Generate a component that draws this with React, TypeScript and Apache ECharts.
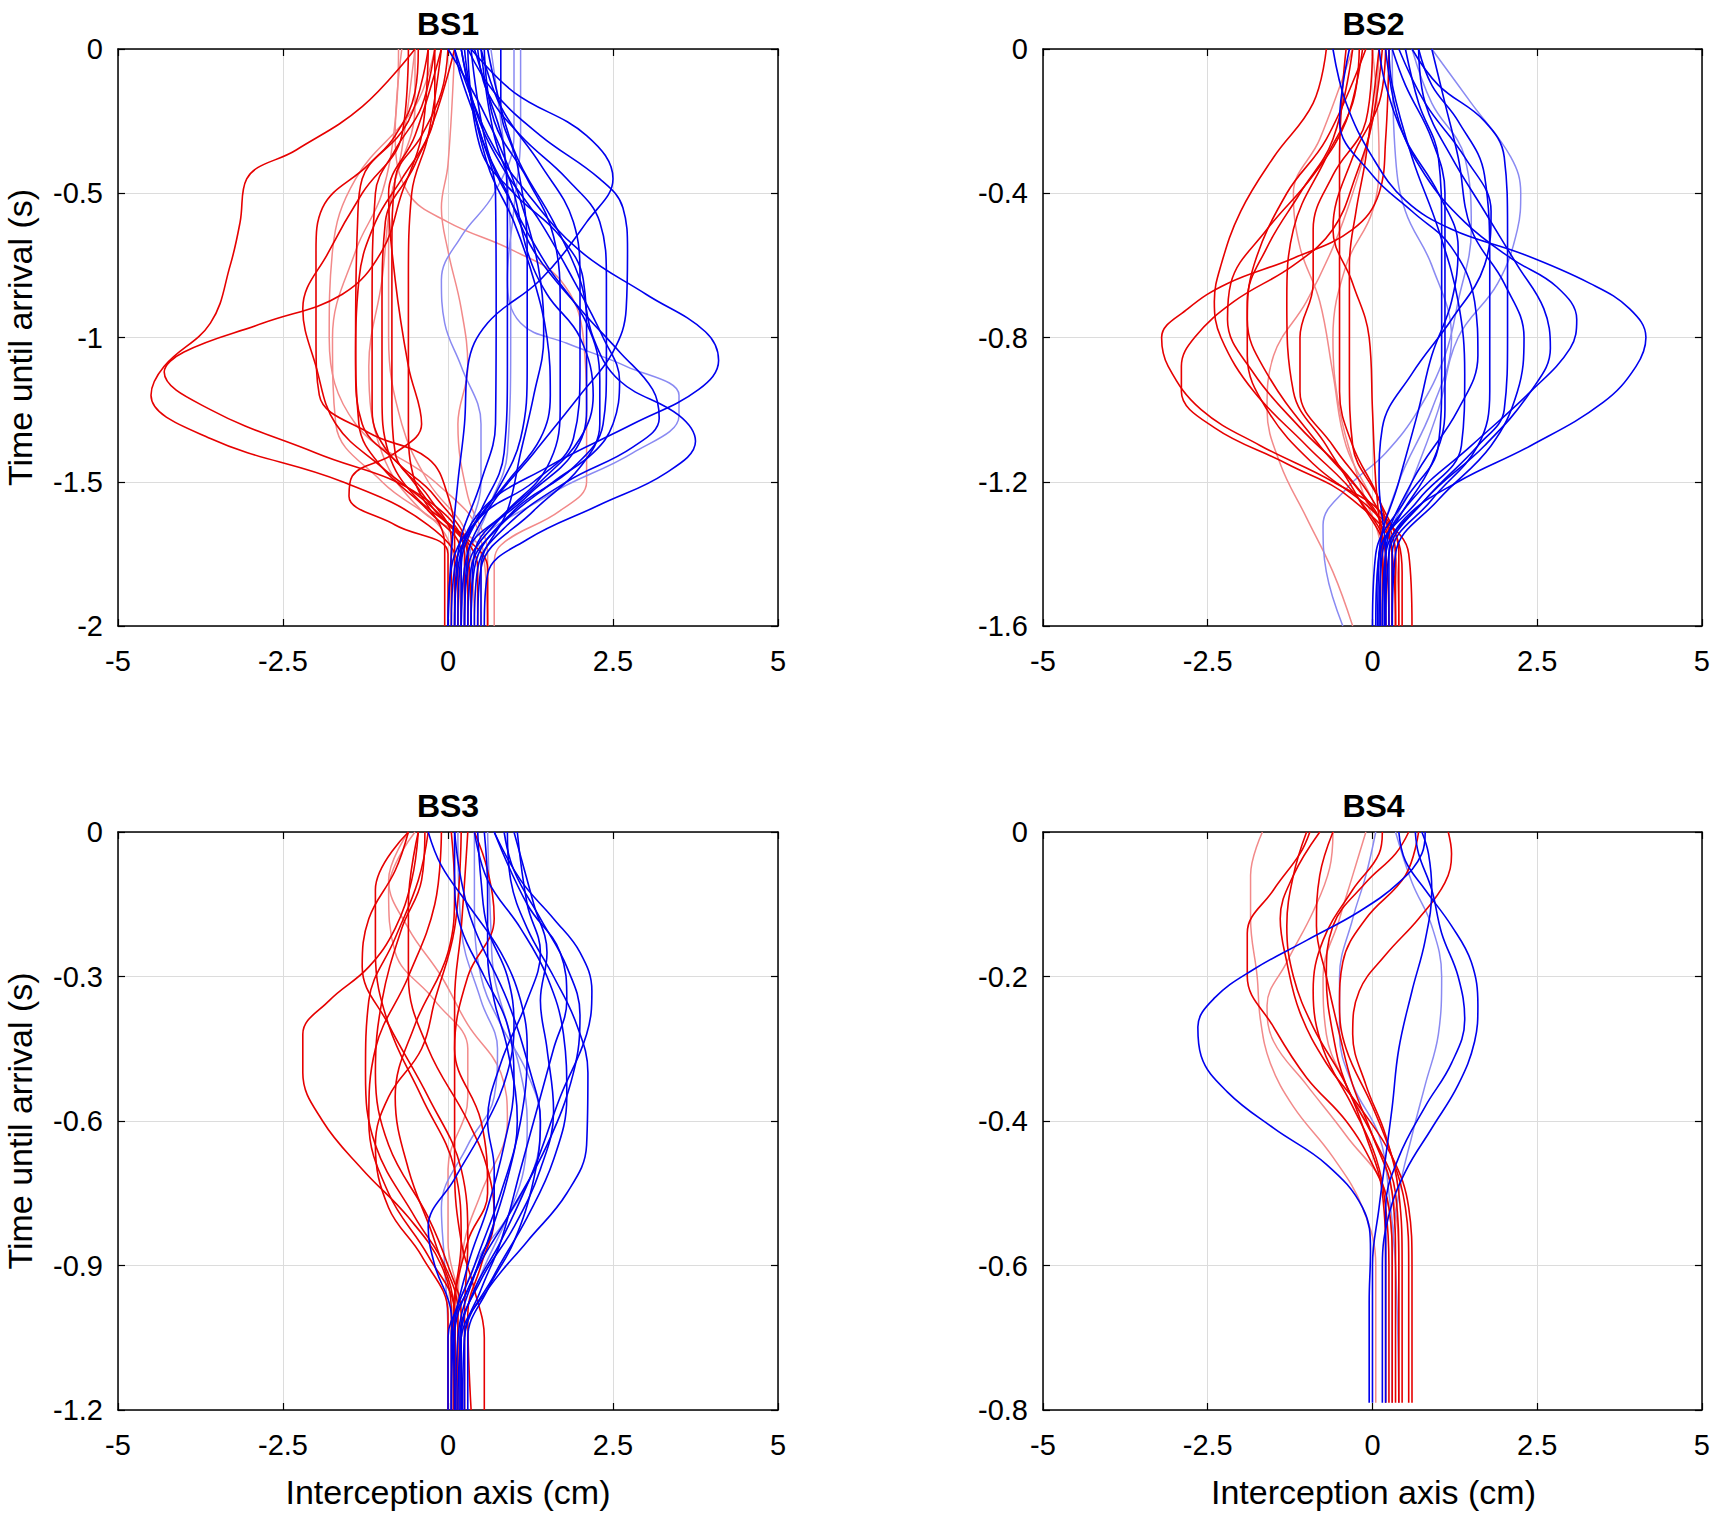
import React, { useEffect, useRef } from "react";
import * as echarts from "echarts";

// ---------- tick / panel definitions ----------
const PANEL_TITLES = ["BS1", "BS2", "BS3", "BS4"];
const Y_MIN = [-2, -1.6, -1.2, -0.8];
const Y_STEP = [0.5, 0.4, 0.3, 0.2];
const X_MIN = -5;
const X_MAX = 5;
const X_STEP = 2.5;
const Y_NAME = "Time until arrival (s)";
const X_NAME = "Interception axis (cm)";

// ---------- trajectories: each point is [time (s), position (cm)] ----------
// BS1
const BS1_RED: number[][][] = [
  [[-2,0.15],[-1.8,0.15],[-1.65,-0.3],[-1.5,-1.6],[-1.35,-3.6],[-1.2,-4.5],[-1.1,-4.3],[-0.95,-3.6],[-0.75,-3.3],[-0.6,-3.15],[-0.45,-3.05],[-0.35,-2.3],[-0.2,-1.3],[0,-0.5]],
  [[-2,0.25],[-1.75,0.25],[-1.55,-0.4],[-1.4,-2.0],[-1.25,-3.6],[-1.12,-4.3],[-1.05,-4.0],[-0.95,-2.8],[-0.85,-1.6],[-0.7,-1.0],[-0.5,-0.7],[-0.3,-0.4],[0,-0.3]],
  [[-2,0.0],[-1.75,0.0],[-1.65,-0.8],[-1.55,-1.5],[-1.48,-1.45],[-1.4,-0.8],[-1.3,-0.4],[-1.1,-0.6],[-0.8,-0.8],[-0.5,-0.9],[-0.3,-0.5],[0,-0.1]],
  [[-2,0.1],[-1.7,0.1],[-1.55,0.0],[-1.42,-0.3],[-1.33,-1.2],[-1.2,-1.95],[-1.0,-2.0],[-0.7,-2.0],[-0.55,-1.9],[-0.4,-1.2],[-0.25,-0.6],[0,-0.3]],
  [[-2,0.2],[-1.75,0.2],[-1.6,-0.3],[-1.45,-1.0],[-1.3,-1.35],[-1.0,-1.4],[-0.6,-1.37],[-0.45,-1.3],[-0.3,-0.8],[-0.15,-0.5],[0,-0.45]],
  [[-2,0.3],[-1.75,0.3],[-1.55,-0.2],[-1.4,-0.9],[-1.25,-1.15],[-0.9,-1.15],[-0.5,-1.1],[-0.35,-0.8],[-0.2,-0.4],[0,-0.2]],
  [[-2,0.05],[-1.7,0.05],[-1.55,-0.3],[-1.4,-0.8],[-1.2,-0.85],[-0.7,-0.85],[-0.45,-0.8],[-0.3,-0.4],[-0.15,-0.1],[0,0.0]],
  [[-2,-0.05],[-1.72,-0.05],[-1.5,-0.5],[-1.3,-0.6],[-0.8,-0.6],[-0.5,-0.55],[-0.3,-0.3],[0,-0.1]],
  [[-2,0.6],[-1.8,0.6],[-1.7,0.3],[-1.55,-0.5],[-1.4,-0.9],[-1.2,-1.0],[-0.9,-1.0],[-0.6,-0.95],[-0.4,-0.5],[-0.2,-0.2],[0,-0.2]],
  [[-2,0.35],[-1.75,0.3],[-1.6,-0.2],[-1.45,-0.7],[-1.3,-1.3],[-1.1,-1.4],[-0.8,-1.35],[-0.6,-1.1],[-0.45,-0.7],[-0.3,-0.3],[0,0.1]],
  [[-2,0.45],[-1.8,0.45],[-1.62,-0.1],[-1.45,-1.0],[-1.3,-1.7],[-1.1,-2.0],[-0.9,-2.2],[-0.7,-1.8],[-0.5,-1.3],[-0.3,-0.7],[0,-0.6]],
];
const BS1_RED_LIGHT: number[][][] = [
  [[-2,0.7],[-1.8,0.7],[-1.72,0.8],[-1.6,1.7],[-1.5,2.1],[-1.3,2.1],[-1.0,2.05],[-0.8,1.7],[-0.7,1.0],[-0.6,0.0],[-0.5,-0.6],[-0.3,-0.8],[0,-0.7]],
  [[-2,0.5],[-1.75,0.5],[-1.6,-0.4],[-1.4,-1.0],[-1.1,-1.2],[-0.8,-1.0],[-0.5,-0.85],[-0.2,-0.5],[0,-0.5]],
  [[-2,0.6],[-1.7,0.5],[-1.5,-0.2],[-1.3,-1.4],[-1.0,-1.8],[-0.7,-1.75],[-0.45,-1.4],[-0.2,-0.5],[0,-0.2]],
  [[-2,0.6],[-1.75,0.6],[-1.55,0.3],[-1.3,0.15],[-1.1,0.3],[-0.9,0.2],[-0.7,0.0],[-0.55,-0.1],[-0.4,0.0],[0,0.1]],
  [[-2,0.4],[-1.7,0.3],[-1.5,-0.3],[-1.3,-0.7],[-1.0,-0.9],[-0.6,-0.9],[-0.35,-0.7],[0,-0.5]],
  [[-2,0.2],[-1.7,0.0],[-1.5,-1.0],[-1.3,-1.7],[-1.0,-1.75],[-0.7,-1.4],[-0.5,-1.0],[-0.25,-0.8],[0,-0.75]],
];
const BS1_BLUE: number[][][] = [
  [[-2,0.1],[-1.8,0.15],[-1.6,0.5],[-1.45,1.5],[-1.3,2.8],[-1.18,3.8],[-1.08,4.1],[-0.98,3.9],[-0.85,3.0],[-0.7,2.0],[-0.5,1.2],[-0.3,0.6],[0,0.1]],
  [[-2,0.55],[-1.82,0.6],[-1.7,1.2],[-1.58,2.3],[-1.47,3.3],[-1.36,3.75],[-1.27,3.5],[-1.15,2.6],[-1.0,2.2],[-0.8,2.0],[-0.6,1.6],[-0.35,1.0],[0,0.6]],
  [[-2,0.2],[-1.8,0.25],[-1.6,0.6],[-1.4,1.3],[-1.2,2.0],[-1.05,2.5],[-0.9,2.7],[-0.7,2.72],[-0.55,2.65],[-0.45,2.3],[-0.3,1.4],[-0.15,0.7],[0,0.3]],
  [[-2,0.35],[-1.8,0.4],[-1.6,1.0],[-1.45,1.9],[-1.3,2.35],[-1.1,2.4],[-0.8,2.4],[-0.6,2.3],[-0.45,1.8],[-0.3,1.1],[-0.15,0.6],[0,0.45]],
  [[-2,0.0],[-1.8,0.05],[-1.62,0.5],[-1.5,1.3],[-1.35,1.9],[-1.1,2.0],[-0.8,2.0],[-0.6,1.9],[-0.4,1.4],[-0.2,0.8],[0,0.5]],
  [[-2,0.25],[-1.75,0.3],[-1.6,0.9],[-1.45,1.5],[-1.25,1.7],[-0.9,1.7],[-0.65,1.6],[-0.45,1.2],[-0.25,0.7],[0,0.55]],
  [[-2,0.15],[-1.75,0.2],[-1.55,0.7],[-1.35,1.1],[-1.1,1.2],[-0.7,1.2],[-0.4,1.05],[-0.2,0.8],[0,0.8]],
  [[-2,0.05],[-1.8,0.1],[-1.6,0.5],[-1.4,0.85],[-1.1,0.9],[-0.6,0.9],[-0.35,0.85],[-0.15,0.6],[0,0.4]],
  [[-2,0.1],[-1.75,0.15],[-1.5,0.5],[-1.3,0.72],[-0.9,0.73],[-0.5,0.72],[-0.3,0.5],[-0.1,0.2],[0,0.1]],
  [[-2,0.0],[-1.75,0.05],[-1.5,0.15],[-1.3,0.25],[-1.1,0.3],[-0.95,0.6],[-0.8,1.4],[-0.6,2.1],[-0.45,2.5],[-0.3,2.1],[-0.15,1.0],[0,0.35]],
  [[-2,0.4],[-1.8,0.45],[-1.65,0.9],[-1.5,1.8],[-1.38,2.8],[-1.28,3.2],[-1.18,3.1],[-1.05,2.6],[-0.9,2.0],[-0.7,1.3],[-0.5,0.9],[-0.3,0.5],[0,0.2]],
  [[-2,0.3],[-1.8,0.35],[-1.65,0.8],[-1.5,1.6],[-1.4,2.2],[-1.3,2.5],[-1.15,2.6],[-1.0,2.35],[-0.8,1.9],[-0.6,1.4],[-0.4,0.8],[-0.2,0.4],[0,0.25]],
  [[-2,0.45],[-1.8,0.5],[-1.6,1.3],[-1.45,2.0],[-1.3,2.3],[-1.15,2.3],[-0.95,2.1],[-0.75,1.5],[-0.55,1.0],[-0.35,0.6],[0,0.35]],
  [[-2,0.2],[-1.8,0.2],[-1.65,0.4],[-1.5,0.9],[-1.35,1.4],[-1.2,1.55],[-1.0,1.5],[-0.8,1.3],[-0.6,1.0],[-0.4,0.6],[0,0.2]],
  [[-2,0.35],[-1.75,0.4],[-1.55,1.2],[-1.4,1.9],[-1.25,2.1],[-1.0,2.1],[-0.8,2.05],[-0.65,1.7],[-0.5,1.0],[-0.35,0.5],[0,0.3]],
  [[-2,0.5],[-1.8,0.5],[-1.6,0.9],[-1.4,1.1],[-1.2,1.3],[-1.0,1.45],[-0.8,1.4],[-0.6,1.2],[-0.4,0.9],[-0.2,0.5],[0,0.0]],
  [[-2,0.25],[-1.8,0.3],[-1.65,0.7],[-1.5,1.4],[-1.35,2.0],[-1.2,2.2],[-1.0,2.0],[-0.85,1.5],[-0.7,1.2],[-0.5,1.0],[-0.3,0.7],[0,0.5]],
];
const BS1_BLUE_LIGHT: number[][][] = [
  [[-2,0.3],[-1.75,0.4],[-1.55,1.5],[-1.4,2.8],[-1.27,3.5],[-1.2,3.5],[-1.1,2.7],[-1.02,1.8],[-0.95,1.1],[-0.8,0.9],[-0.55,1.0],[-0.3,1.1],[0,1.1]],
  [[-2,0.2],[-1.7,0.3],[-1.5,0.5],[-1.3,0.5],[-1.1,0.2],[-0.95,-0.05],[-0.8,-0.1],[-0.65,0.2],[-0.5,0.7],[-0.3,1.0],[0,1.0]],
  [[-2,0.3],[-1.8,0.3],[-1.6,0.6],[-1.4,0.9],[-1.0,0.95],[-0.7,0.95],[-0.45,0.9],[-0.25,0.8],[0,0.65]],
];

// BS2
const BS2_RED: number[][][] = [
  [[-1.6,0.45],[-1.45,0.45],[-1.3,0.2],[-1.2,-0.6],[-1.1,-1.7],[-1.0,-2.6],[-0.88,-3.1],[-0.8,-3.2],[-0.72,-2.8],[-0.65,-2.2],[-0.58,-1.2],[-0.5,-0.3],[-0.4,0.1],[-0.25,0.2],[0,0.25]],
  [[-1.6,0.3],[-1.4,0.3],[-1.25,-0.3],[-1.15,-1.3],[-1.05,-2.4],[-0.95,-2.9],[-0.88,-2.9],[-0.8,-2.7],[-0.7,-2.1],[-0.6,-1.2],[-0.5,-0.6],[-0.35,-0.25],[-0.2,0.0],[0,0.15]],
  [[-1.6,0.2],[-1.4,0.2],[-1.25,-0.2],[-1.1,-1.0],[-0.95,-1.8],[-0.8,-2.3],[-0.7,-2.4],[-0.6,-2.3],[-0.45,-2.0],[-0.3,-1.5],[-0.15,-0.9],[0,-0.7]],
  [[-1.6,0.15],[-1.35,0.15],[-1.2,-0.3],[-1.05,-1.1],[-0.9,-1.8],[-0.75,-2.2],[-0.65,-2.15],[-0.5,-1.6],[-0.35,-0.9],[-0.2,-0.4],[0,-0.15]],
  [[-1.6,0.6],[-1.4,0.55],[-1.28,0.0],[-1.15,-0.9],[-1.0,-1.6],[-0.85,-1.9],[-0.7,-1.9],[-0.55,-1.6],[-0.4,-1.1],[-0.25,-0.6],[0,-0.3]],
  [[-1.6,0.35],[-1.4,0.3],[-1.25,0.1],[-1.1,-0.3],[-0.95,-0.5],[-0.6,-0.5],[-0.3,-0.5],[-0.1,-0.45],[0,-0.4]],
  [[-1.6,0.25],[-1.4,0.2],[-1.25,-0.2],[-1.1,-0.7],[-0.95,-1.2],[-0.7,-1.3],[-0.5,-1.2],[-0.3,-0.7],[-0.15,-0.3],[0,-0.2]],
  [[-1.6,0.2],[-1.4,0.15],[-1.2,0.05],[-1.0,0.0],[-0.8,-0.05],[-0.65,-0.3],[-0.5,-0.6],[-0.3,-0.3],[-0.15,0.1],[0,0.2]],
  [[-1.6,0.4],[-1.4,0.4],[-1.25,0.1],[-1.1,-0.3],[-0.9,-0.35],[-0.6,-0.35],[-0.45,-0.25],[-0.3,-0.1],[0,0.1]],
  [[-1.6,0.3],[-1.4,0.3],[-1.25,-0.1],[-1.1,-0.8],[-0.9,-1.6],[-0.75,-1.9],[-0.6,-1.8],[-0.4,-1.3],[-0.25,-0.7],[0,-0.1]],
  [[-1.6,0.35],[-1.4,0.35],[-1.25,0.0],[-1.1,-0.6],[-0.95,-1.1],[-0.8,-1.1],[-0.65,-0.9],[-0.5,-0.9],[-0.35,-0.6],[-0.2,-0.1],[0,0.0]],
];
const BS2_RED_LIGHT: number[][][] = [
  [[-1.6,-0.3],[-1.45,-0.6],[-1.3,-1.0],[-1.15,-1.4],[-1.0,-1.6],[-0.85,-1.5],[-0.7,-1.0],[-0.55,-0.6],[-0.4,-0.3],[-0.2,0.0],[0,0.1]],
  [[-1.6,0.4],[-1.4,0.35],[-1.25,0.0],[-1.1,-0.4],[-0.9,-0.6],[-0.7,-0.8],[-0.55,-1.1],[-0.4,-1.2],[-0.25,-0.8],[0,-0.3]],
  [[-1.6,0.2],[-1.4,0.15],[-1.2,-0.2],[-1.0,-0.5],[-0.8,-0.6],[-0.6,-0.4],[-0.45,0.0],[-0.3,0.1],[0,0.0]],
];
const BS2_BLUE: number[][][] = [
  [[-1.6,0.25],[-1.4,0.25],[-1.3,0.5],[-1.2,1.3],[-1.1,2.4],[-0.98,3.5],[-0.88,4.0],[-0.8,4.15],[-0.72,3.9],[-0.65,3.3],[-0.57,2.3],[-0.5,1.2],[-0.42,0.5],[-0.3,0.0],[-0.15,-0.4],[0,-0.6]],
  [[-1.6,0.1],[-1.4,0.15],[-1.25,0.6],[-1.1,1.5],[-0.95,2.4],[-0.83,3.0],[-0.75,3.1],[-0.66,2.8],[-0.58,2.1],[-0.48,1.4],[-0.35,0.8],[-0.2,0.4],[0,0.2]],
  [[-1.6,0.2],[-1.4,0.25],[-1.25,0.8],[-1.1,1.7],[-0.95,2.4],[-0.83,2.7],[-0.72,2.6],[-0.6,2.2],[-0.45,1.7],[-0.3,1.2],[-0.15,0.8],[0,0.7]],
  [[-1.6,0.15],[-1.4,0.2],[-1.25,0.8],[-1.1,1.6],[-1.0,2.0],[-0.8,2.05],[-0.5,2.05],[-0.3,2.0],[-0.2,1.7],[-0.1,1.0],[0,0.6]],
  [[-1.6,0.3],[-1.4,0.3],[-1.25,0.9],[-1.1,1.6],[-0.95,1.78],[-0.6,1.78],[-0.35,1.7],[-0.2,1.3],[-0.1,0.9],[0,0.7]],
  [[-1.6,0.05],[-1.4,0.1],[-1.25,0.7],[-1.1,1.35],[-0.9,1.4],[-0.7,1.3],[-0.5,1.0],[-0.3,0.6],[-0.1,0.3],[0,0.25]],
  [[-1.6,0.0],[-1.4,0.05],[-1.25,0.5],[-1.1,1.0],[-0.9,1.05],[-0.5,1.05],[-0.3,1.0],[-0.15,0.7],[0,0.5]],
  [[-1.6,0.12],[-1.4,0.12],[-1.3,0.4],[-1.15,0.9],[-1.0,1.1],[-0.7,1.1],[-0.4,1.1],[-0.25,0.9],[-0.1,0.5],[0,0.3]],
  [[-1.6,0.08],[-1.4,0.1],[-1.2,0.4],[-1.0,0.7],[-0.85,0.9],[-0.7,1.2],[-0.55,1.3],[-0.4,1.0],[-0.25,0.5],[-0.1,0.2],[0,0.1]],
  [[-1.6,0.2],[-1.4,0.2],[-1.2,0.1],[-1.05,0.15],[-0.9,0.6],[-0.75,1.2],[-0.6,1.7],[-0.45,1.8],[-0.3,1.4],[-0.15,0.8],[0,0.4]],
  [[-1.6,0.18],[-1.4,0.2],[-1.2,0.6],[-1.0,1.3],[-0.85,1.6],[-0.7,1.55],[-0.55,1.2],[-0.45,0.6],[-0.35,0.0],[-0.2,-0.5],[0,-0.35]],
  [[-1.6,0.3],[-1.4,0.35],[-1.25,1.0],[-1.1,1.8],[-0.95,2.2],[-0.8,2.3],[-0.65,2.0],[-0.5,1.5],[-0.3,1.3],[-0.15,1.1],[0,0.9]],
];
const BS2_BLUE_LIGHT: number[][][] = [
  [[-1.6,-0.45],[-1.45,-0.7],[-1.32,-0.75],[-1.22,-0.4],[-1.12,0.2],[-1.0,0.7],[-0.85,1.1],[-0.7,1.3],[-0.5,1.5],[-0.3,1.4],[-0.15,0.9],[0,0.6]],
  [[-1.6,0.15],[-1.4,0.2],[-1.2,0.6],[-1.0,1.0],[-0.8,1.3],[-0.65,1.9],[-0.5,2.2],[-0.4,2.25],[-0.3,2.1],[-0.15,1.5],[0,0.9]],
  [[-1.6,0.05],[-1.4,0.1],[-1.2,0.4],[-1.0,0.9],[-0.8,1.2],[-0.6,0.9],[-0.45,0.5],[-0.3,0.35],[0,0.3]],
];

// BS3
const BS3_RED: number[][][] = [
  [[-1.2,0.05],[-1.0,0.05],[-0.9,-0.1],[-0.8,-0.6],[-0.7,-1.3],[-0.6,-1.9],[-0.5,-2.2],[-0.42,-2.2],[-0.35,-1.8],[-0.28,-1.2],[-0.2,-0.8],[-0.1,-0.55],[0,-0.45]],
  [[-1.2,0.15],[-1.0,0.15],[-0.9,-0.05],[-0.8,-0.5],[-0.65,-1.1],[-0.5,-1.25],[-0.35,-1.2],[-0.22,-0.8],[-0.1,-0.45],[0,-0.3]],
  [[-1.2,0.1],[-1.0,0.1],[-0.88,-0.3],[-0.75,-0.9],[-0.6,-1.2],[-0.45,-1.1],[-0.3,-0.6],[-0.15,-0.2],[0,-0.1]],
  [[-1.2,0.25],[-1.0,0.25],[-0.85,0.3],[-0.7,0.2],[-0.55,-0.3],[-0.4,-0.9],[-0.28,-1.3],[-0.18,-1.2],[-0.08,-0.8],[0,-0.6]],
  [[-1.2,0.0],[-1.0,0.0],[-0.88,-0.4],[-0.78,-0.9],[-0.65,-1.1],[-0.55,-0.9],[-0.45,-0.4],[-0.35,-0.2],[-0.2,0.1],[0,0.2]],
  [[-1.2,0.1],[-1.0,0.1],[-0.85,0.3],[-0.75,0.6],[-0.6,0.5],[-0.45,0.1],[-0.3,0.3],[-0.18,0.7],[-0.08,0.6],[0,0.4]],
  [[-1.2,0.55],[-1.05,0.55],[-0.95,0.4],[-0.85,0.2],[-0.7,0.1],[-0.5,0.1],[-0.35,0.1],[-0.2,0.2],[0,0.3]],
  [[-1.2,0.2],[-1.0,0.2],[-0.9,0.0],[-0.8,-0.3],[-0.65,-0.9],[-0.5,-1.1],[-0.35,-1.0],[-0.2,-0.7],[-0.1,-0.4],[0,-0.35]],
  [[-1.2,0.12],[-1.0,0.1],[-0.85,-0.2],[-0.7,-0.6],[-0.55,-0.8],[-0.4,-0.5],[-0.25,0.0],[-0.12,0.1],[0,0.05]],
  [[-1.2,0.08],[-1.0,0.08],[-0.85,0.2],[-0.7,0.1],[-0.55,-0.4],[-0.4,-0.9],[-0.25,-1.1],[-0.12,-1.1],[0,-0.6]],
  [[-1.2,0.35],[-1.0,0.3],[-0.9,0.5],[-0.8,0.7],[-0.7,0.6],[-0.6,0.3],[-0.45,-0.3],[-0.3,-0.6],[-0.15,-0.6],[0,-0.45]],
];
const BS3_RED_LIGHT: number[][][] = [
  [[-1.2,0.15],[-1.0,0.15],[-0.85,0.25],[-0.75,0.5],[-0.6,0.9],[-0.5,0.8],[-0.4,0.3],[-0.3,-0.1],[-0.2,-0.6],[-0.1,-0.9],[0,-0.6]],
  [[-1.2,0.2],[-1.0,0.2],[-0.85,0.0],[-0.7,0.0],[-0.55,0.3],[-0.45,0.3],[-0.35,-0.2],[-0.25,-0.8],[-0.12,-0.9],[0,-0.5]],
];
const BS3_BLUE: number[][][] = [
  [[-1.2,0.2],[-1.05,0.2],[-0.95,0.4],[-0.85,0.8],[-0.7,1.3],[-0.55,1.7],[-0.42,2.1],[-0.33,2.18],[-0.25,2.0],[-0.18,1.6],[-0.1,1.1],[0,0.7]],
  [[-1.2,0.15],[-1.05,0.2],[-0.95,0.6],[-0.85,1.2],[-0.75,1.8],[-0.65,2.1],[-0.5,2.12],[-0.4,1.95],[-0.3,1.6],[-0.2,1.2],[-0.1,0.95],[0,0.9]],
  [[-1.2,0.1],[-1.05,0.1],[-0.92,0.4],[-0.8,0.9],[-0.65,1.5],[-0.5,1.9],[-0.38,2.0],[-0.28,1.8],[-0.18,1.4],[-0.08,1.0],[0,0.85]],
  [[-1.2,0.25],[-1.05,0.25],[-0.95,0.5],[-0.85,0.8],[-0.7,1.1],[-0.55,1.4],[-0.45,1.6],[-0.35,1.8],[-0.25,1.7],[-0.15,1.2],[0,0.7]],
  [[-1.2,0.05],[-1.05,0.05],[-0.9,0.4],[-0.75,0.8],[-0.6,1.1],[-0.45,1.2],[-0.35,1.1],[-0.25,0.8],[-0.15,0.3],[-0.07,-0.1],[0,-0.3]],
  [[-1.2,0.1],[-1.0,0.05],[-0.9,-0.2],[-0.82,-0.3],[-0.72,0.1],[-0.6,0.6],[-0.5,0.9],[-0.4,1.0],[-0.3,0.9],[-0.2,0.6],[-0.1,0.5],[0,0.45]],
  [[-1.2,0.0],[-1.05,0.0],[-0.95,0.3],[-0.85,0.6],[-0.72,0.9],[-0.6,1.05],[-0.45,0.9],[-0.35,0.7],[-0.25,0.6],[-0.12,0.6],[0,0.55]],
  [[-1.2,0.3],[-1.05,0.3],[-0.95,0.6],[-0.85,1.0],[-0.72,1.3],[-0.6,1.4],[-0.5,1.25],[-0.35,0.9],[-0.2,0.4],[-0.1,0.2],[0,0.1]],
  [[-1.2,0.18],[-1.05,0.18],[-0.93,0.5],[-0.82,1.0],[-0.7,1.4],[-0.58,1.6],[-0.45,1.5],[-0.35,1.4],[-0.25,1.5],[-0.15,1.3],[0,1.0]],
  [[-1.2,0.22],[-1.05,0.25],[-0.92,0.7],[-0.8,1.2],[-0.68,1.6],[-0.55,1.8],[-0.42,1.75],[-0.3,1.5],[-0.2,1.1],[-0.1,0.6],[0,0.4]],
  [[-1.2,0.05],[-1.05,0.08],[-0.9,0.3],[-0.78,0.6],[-0.65,0.85],[-0.52,1.0],[-0.4,0.9],[-0.3,0.55],[-0.2,0.2],[-0.1,0.1],[0,0.1]],
  [[-1.2,0.12],[-1.05,0.15],[-0.9,0.45],[-0.8,0.7],[-0.7,0.7],[-0.6,0.6],[-0.48,0.8],[-0.35,1.2],[-0.25,1.4],[-0.15,1.2],[0,1.05]],
];
const BS3_BLUE_LIGHT: number[][][] = [
  [[-1.2,0.2],[-1.05,0.2],[-0.92,0.5],[-0.8,0.9],[-0.7,1.15],[-0.6,1.2],[-0.5,1.1],[-0.4,0.9],[-0.3,0.7],[-0.2,0.65],[0,0.6]],
  [[-1.2,0.1],[-1.05,0.1],[-0.9,0.4],[-0.8,0.9],[-0.7,1.3],[-0.6,1.4],[-0.5,1.2],[-0.4,0.8],[-0.3,0.5],[-0.15,0.4],[0,0.4]],
  [[-1.2,0.0],[-1.05,0.0],[-0.9,-0.05],[-0.78,-0.1],[-0.65,0.3],[-0.55,0.7],[-0.45,0.75],[-0.35,0.5],[-0.2,0.2],[0,0.15]],
];

// BS4
const BS4_RED: number[][][] = [
  [[-0.79,0.3],[-0.6,0.3],[-0.52,0.25],[-0.46,0.0],[-0.4,-0.4],[-0.34,-1.0],[-0.27,-1.5],[-0.2,-1.9],[-0.14,-1.9],[-0.08,-1.5],[-0.03,-1.1],[0,-0.95]],
  [[-0.79,0.6],[-0.6,0.6],[-0.52,0.55],[-0.45,0.3],[-0.38,-0.2],[-0.32,-0.7],[-0.25,-1.1],[-0.18,-1.3],[-0.12,-1.4],[-0.06,-1.2],[0,-0.8]],
  [[-0.79,0.45],[-0.6,0.45],[-0.5,0.4],[-0.42,0.2],[-0.35,-0.1],[-0.28,-0.3],[-0.22,-0.2],[-0.17,0.2],[-0.12,0.7],[-0.07,1.1],[-0.03,1.2],[0,1.15]],
  [[-0.79,0.35],[-0.6,0.35],[-0.5,0.3],[-0.42,0.0],[-0.35,-0.3],[-0.28,-0.5],[-0.2,-0.7],[-0.13,-0.85],[-0.06,-0.8],[0,-0.6]],
  [[-0.79,0.25],[-0.6,0.25],[-0.52,0.2],[-0.45,0.05],[-0.38,-0.3],[-0.3,-0.75],[-0.22,-0.9],[-0.15,-0.75],[-0.08,-0.3],[-0.03,0.1],[0,0.15]],
  [[-0.79,0.4],[-0.6,0.4],[-0.5,0.35],[-0.42,0.0],[-0.35,-0.4],[-0.28,-0.6],[-0.2,-0.7],[-0.13,-0.6],[-0.07,-0.1],[-0.03,0.35],[0,0.55]],
  [[-0.79,0.2],[-0.6,0.2],[-0.5,0.15],[-0.42,-0.1],[-0.35,-0.4],[-0.27,-0.9],[-0.2,-1.2],[-0.13,-1.3],[-0.06,-1.2],[0,-1.0]],
  [[-0.79,0.55],[-0.6,0.55],[-0.52,0.5],[-0.45,0.3],[-0.38,0.0],[-0.3,-0.4],[-0.24,-0.5],[-0.18,-0.45],[-0.12,-0.1],[-0.06,0.5],[0,0.7]],
];
const BS4_RED_LIGHT: number[][][] = [
  [[-0.79,0.05],[-0.6,0.05],[-0.52,-0.15],[-0.45,-0.6],[-0.38,-1.2],[-0.32,-1.55],[-0.26,-1.7],[-0.2,-1.75],[-0.12,-1.85],[-0.06,-1.85],[0,-1.67]],
  [[-0.79,0.3],[-0.6,0.3],[-0.5,0.2],[-0.42,-0.4],[-0.35,-1.0],[-0.29,-1.5],[-0.24,-1.6],[-0.18,-1.3],[-0.11,-0.9],[-0.05,-0.65],[0,-0.6]],
  [[-0.79,0.4],[-0.6,0.4],[-0.5,0.3],[-0.42,0.0],[-0.35,-0.4],[-0.28,-0.7],[-0.2,-0.75],[-0.12,-0.5],[-0.06,-0.3],[0,-0.1]],
];
const BS4_BLUE: number[][][] = [
  [[-0.79,-0.05],[-0.65,-0.05],[-0.58,-0.03],[-0.52,-0.15],[-0.46,-0.7],[-0.41,-1.5],[-0.36,-2.2],[-0.31,-2.6],[-0.27,-2.65],[-0.23,-2.4],[-0.19,-1.8],[-0.15,-1.0],[-0.11,-0.2],[-0.07,0.4],[-0.03,0.75],[0,0.8]],
  [[-0.79,0.15],[-0.6,0.15],[-0.53,0.25],[-0.47,0.5],[-0.41,0.9],[-0.35,1.3],[-0.29,1.55],[-0.24,1.6],[-0.18,1.5],[-0.13,1.2],[-0.08,0.8],[-0.04,0.5],[0,0.4]],
  [[-0.79,0.2],[-0.6,0.2],[-0.52,0.2],[-0.45,0.4],[-0.38,0.8],[-0.32,1.2],[-0.26,1.4],[-0.2,1.3],[-0.14,1.05],[-0.08,0.9],[-0.03,0.7],[0,0.65]],
  [[-0.79,0.0],[-0.6,0.0],[-0.52,0.1],[-0.45,0.2],[-0.38,0.3],[-0.3,0.4],[-0.22,0.6],[-0.15,0.8],[-0.08,0.9],[-0.03,0.85],[0,0.75]],
];
const BS4_BLUE_LIGHT: number[][][] = [
  [[-0.79,0.4],[-0.6,0.35],[-0.5,0.25],[-0.42,0.1],[-0.35,-0.3],[-0.28,-0.5],[-0.2,-0.5],[-0.12,-0.3],[-0.06,-0.1],[0,0.05]],
  [[-0.79,0.3],[-0.6,0.3],[-0.5,0.4],[-0.42,0.6],[-0.35,0.8],[-0.28,1.0],[-0.2,1.05],[-0.13,0.9],[-0.07,0.6],[0,0.35]],
];

const PANELS = [
  { redLight: BS1_RED_LIGHT, blueLight: BS1_BLUE_LIGHT, red: BS1_RED, blue: BS1_BLUE },
  { redLight: BS2_RED_LIGHT, blueLight: BS2_BLUE_LIGHT, red: BS2_RED, blue: BS2_BLUE },
  { redLight: BS3_RED_LIGHT, blueLight: BS3_BLUE_LIGHT, red: BS3_RED, blue: BS3_BLUE },
  { redLight: BS4_RED_LIGHT, blueLight: BS4_BLUE_LIGHT, red: BS4_RED, blue: BS4_BLUE },
];

// ---------- styling / layout ----------
const W = 1713;
const H = 1517;
const FONT = "'Liberation Sans', Arial, Helvetica, sans-serif";
const COLORS = { red: "#E60000", blue: "#0000EE", redLight: "#F28A8A", blueLight: "#8A8AF2" };
const GRIDS = [
  { left: 118, top: 49, width: 660, height: 577 },
  { left: 1043, top: 49, width: 661, height: 577 },
  { left: 118, top: 832, width: 660, height: 578 },
  { left: 1043, top: 832, width: 661, height: 578 },
];

function buildOption() {
  const grid = GRIDS.map((g) => ({ ...g, containLabel: false, show: false }));
  const xAxis: any[] = [];
  const yAxis: any[] = [];
  const axisLine = { show: true, onZero: false, lineStyle: { color: "#000", width: 1.5 } };
  const tick = { show: true, inside: true, length: 7, lineStyle: { color: "#000", width: 1.2 } };
  GRIDS.forEach((_, p) => {
    xAxis.push({
      gridIndex: p, type: "value", min: X_MIN, max: X_MAX, interval: X_STEP, position: "bottom",
      axisLine, axisTick: tick,
      axisLabel: { color: "#000", fontSize: 29, fontFamily: FONT, margin: 20, showMinLabel: true, showMaxLabel: true },
      splitLine: { show: true, lineStyle: { color: "#dcdcdc", width: 1 } },
    });
    xAxis.push({
      gridIndex: p, type: "value", min: X_MIN, max: X_MAX, interval: X_STEP, position: "top",
      axisLine, axisTick: tick, axisLabel: { show: false }, splitLine: { show: false },
    });
    yAxis.push({
      gridIndex: p, type: "value", min: Y_MIN[p], max: 0, interval: Y_STEP[p], position: "left",
      axisLine, axisTick: tick,
      axisLabel: { color: "#000", fontSize: 29, fontFamily: FONT, margin: 15, showMinLabel: true, showMaxLabel: true },
      splitLine: { show: true, lineStyle: { color: "#dcdcdc", width: 1 } },
    });
    yAxis.push({
      gridIndex: p, type: "value", min: Y_MIN[p], max: 0, interval: Y_STEP[p], position: "right",
      axisLine, axisTick: tick, axisLabel: { show: false }, splitLine: { show: false },
    });
  });

  const series: any[] = [];
  PANELS.forEach((panel, p) => {
    const groups: [number[][][], string, number][] = [
      [panel.redLight, COLORS.redLight, 1.5],
      [panel.blueLight, COLORS.blueLight, 1.5],
      [panel.red, COLORS.red, 1.6],
      [panel.blue, COLORS.blue, 1.6],
    ];
    groups.forEach(([curves, color, w]) => {
      curves.forEach((c) => {
        series.push({
          type: "line",
          xAxisIndex: 2 * p,
          yAxisIndex: 2 * p,
          data: c.map(([t, x]) => [x, t]),
          showSymbol: false,
          symbol: "none",
          smooth: 0.4,
          lineStyle: { color, width: w },
          silent: true,
          z: 3,
        });
      });
    });
  });

  const graphic: any[] = [];
  GRIDS.forEach((g, p) => {
    graphic.push({
      type: "text", x: g.left + g.width / 2, y: p < 2 ? 24 : 806,
      style: { text: PANEL_TITLES[p], fill: "#000", font: `bold 32px ${FONT}`, textAlign: "center", textVerticalAlign: "middle" },
    });
    if (p % 2 === 0) {
      graphic.push({
        type: "text", x: 20, y: g.top + g.height / 2, rotation: Math.PI / 2,
        style: { text: Y_NAME, fill: "#000", font: `34px ${FONT}`, textAlign: "center", textVerticalAlign: "middle" },
      });
    }
    if (p >= 2) {
      graphic.push({
        type: "text", x: g.left + g.width / 2, y: 1492,
        style: { text: X_NAME, fill: "#000", font: `34px ${FONT}`, textAlign: "center", textVerticalAlign: "middle" },
      });
    }
  });

  return { animation: false, backgroundColor: "#fff", grid, xAxis, yAxis, series, graphic };
}

export default function App() {
  const ref = useRef<HTMLDivElement>(null);
  useEffect(() => {
    if (!ref.current) return;
    const chart = echarts.init(ref.current, undefined, { renderer: "svg" });
    chart.setOption(buildOption() as any);
    return () => chart.dispose();
  }, []);
  return (
    <div
      ref={ref}
      style={{ position: "absolute", left: 0, top: 0, width: W, height: H, background: "#fff" }}
    />
  );
}
